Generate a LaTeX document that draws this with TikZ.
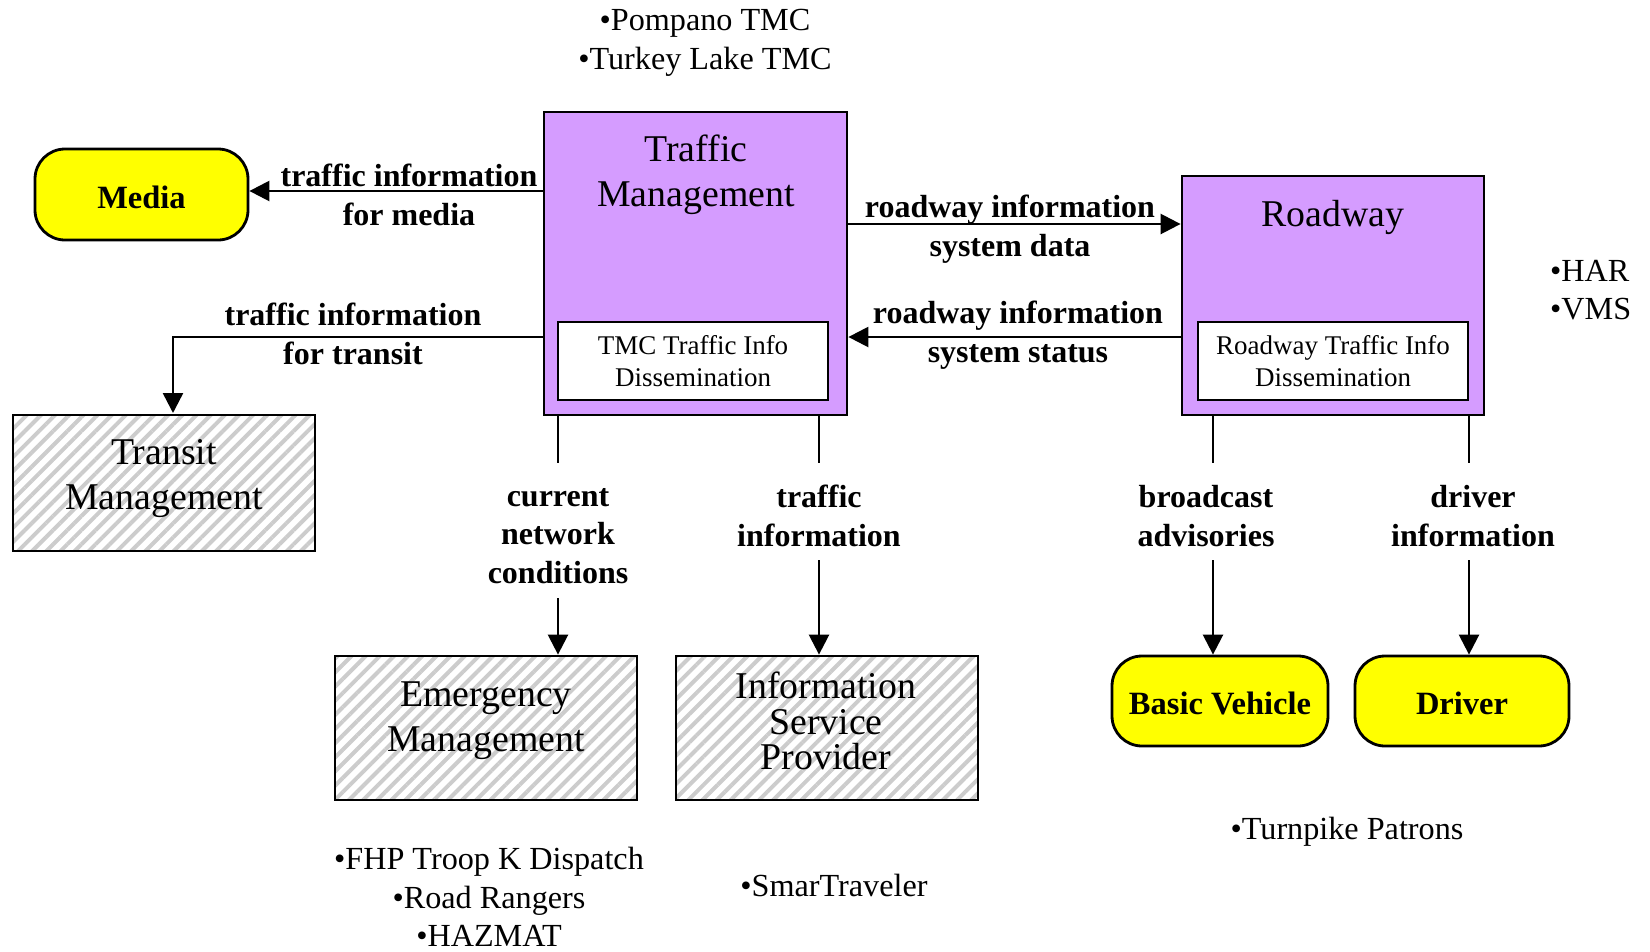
\documentclass[tikz,border=0pt]{standalone}
\usepackage{fontspec}
\setmainfont{Liberation Serif}
\usetikzlibrary{arrows.meta,patterns.meta,calc}
\definecolor{tmpurple}{RGB}{213,156,255}
\definecolor{ylw}{RGB}{255,255,0}
\begin{document}
\begin{tikzpicture}[x=1pt,y=-1pt,
  purplebox/.style={draw=black, line width=2.8pt, fill=tmpurple, inner sep=0pt},
  innerbox/.style={draw, line width=2.6pt, fill=white, minimum width=270pt, minimum height=78pt, align=center, inner sep=0pt, font=\fontsize{27}{32.5}\selectfont},
  hatchbox/.style={draw, line width=2.8pt, minimum width=302pt, minimum height=144pt, inner sep=0pt, pattern={Lines[angle=45,distance=10pt,line width=4pt]}, pattern color=black!20},
  termbox/.style={draw, line width=2.8pt, fill=ylw, rounded corners=30pt, minimum height=90pt, inner sep=0pt, text height=27pt, text depth=0pt, font=\fontsize{32.5}{38}\selectfont\bfseries},
  titletext/.style={align=center, inner sep=0pt, font=\fontsize{37.8}{45}\selectfont},
  flowlbl/.style={align=center, inner sep=0pt, font=\fontsize{32}{38.5}\selectfont\bfseries},
  flow/.style={line width=2.5pt, -{Triangle[length=20pt,width=20pt]}},
  plainline/.style={line width=2.5pt},
  bullets/.style={align=center, inner sep=0pt, font=\fontsize{32.2}{38.5}\selectfont}]
\useasboundingbox (0,0) rectangle (1650,951);

% main boxes
\node[purplebox, minimum width=303pt, minimum height=303pt] (tm) at (695.5,263.5) {};
\node[titletext] (tmtitle) at (696,175) {Traffic\\Management};
\node[innerbox] (tmi) at (693,361) {TMC Traffic Info\\Dissemination};

\node[purplebox, minimum width=302pt, minimum height=239pt] (rw) at (1333,295.5) {};
\node[titletext] (rwtitle) at (1333,217) {Roadway};
\node[innerbox] (rwi) at (1333,361) {Roadway Traffic Info\\Dissemination};

% terminators
\node[termbox, minimum width=213pt, minimum height=91pt] (media) at (141.5,194.5) {Media};
\node[termbox, minimum width=216pt] (bv) at (1220,701) {Basic Vehicle};
\node[termbox, minimum width=214pt] (drv) at (1462,701) {Driver};

% hatched boxes
\node[hatchbox, minimum height=136pt] (transit) at (164,483) {};
\node[titletext] (transittxt) at (164,479) {Transit\\Management};
\node[hatchbox] (em) at (486,728) {};
\node[titletext] (emtxt) at (486,721) {Emergency\\Management};
\node[hatchbox] (isp) at (827,728) {};
\node[titletext, font=\fontsize{37.8}{35.5}\selectfont] (isptxt) at (826,721) {Information\\Service\\Provider};

% flow labels
\node[flowlbl] (lmedia) at (409,195) {traffic information\\for media};
\node[flowlbl] (ltransit) at (353,334) {traffic information\\for transit};
\node[flowlbl] (lrwdata) at (1010,229) {roadway information\\system data};
\node[flowlbl] (lrwstat) at (1018,335) {roadway information\\system status};
\node[flowlbl] (lcnc) at (558,536) {current\\network\\conditions};
\node[flowlbl] (lti) at (819,516) {traffic\\information};
\node[flowlbl] (lba) at (1206,516) {broadcast\\advisories};
\node[flowlbl] (ldi) at (1473,516) {driver\\information};

% connectors
\draw[flow] (tm.west |- 0,191) -- (media.east |- 0,191);
\draw[flow] (tm.west |- 0,337) -| (transit.north -| 173,0);
\draw[flow] (tm.east |- 0,224) -- (rw.west |- 0,224);
\draw[flow] (rw.west |- 0,337) -- (tm.east |- 0,337);

\draw[plainline] (tm.south -| lcnc) -- (lcnc.center |- 0,463);
\draw[flow] (lcnc.center |- 0,598) -- (em.north -| lcnc);
\draw[plainline] (tm.south -| 819,0) -- (819,463);
\draw[flow] (819,560) -- (isp.north -| 819,0);
\draw[plainline] (rw.south -| 1213,0) -- (1213,463);
\draw[flow] (1213,560) -- (bv.north -| 1213,0);
\draw[plainline] (rw.south -| 1469,0) -- (1469,463);
\draw[flow] (1469,560) -- (drv.north -| 1469,0);

% annotations
\node[bullets] (tmcs) at (705,43) {•Pompano TMC\\•Turkey Lake TMC};
\node[bullets, align=left, anchor=west] (rwdev) at (1550,290) {•HAR\\•VMS};
\node[bullets] (emlist) at (489,897) {•FHP Troop K Dispatch\\•Road Rangers\\•HAZMAT};
\node[bullets] (isplist) at (834,885) {•SmarTraveler};
\node[bullets] (patrons) at (1347,832) {•Turnpike Patrons};
\end{tikzpicture}
\end{document}
